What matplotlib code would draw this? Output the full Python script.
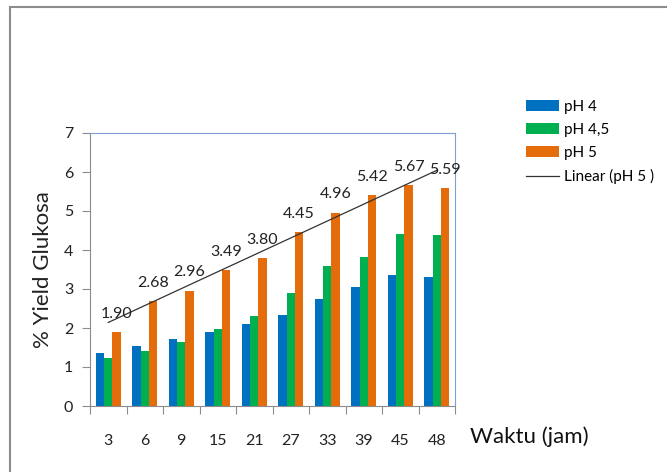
import matplotlib.pyplot as plt
import numpy as np
from matplotlib.patches import Rectangle

plt.rcParams['font.family'] = ['Lato', 'DejaVu Sans']

# data
waktu = ['3', '6', '9', '15', '21', '27', '33', '39', '45', '48']
ph4 = [1.36, 1.55, 1.71, 1.91, 2.10, 2.33, 2.74, 3.04, 3.35, 3.32]
ph45 = [1.22, 1.41, 1.64, 1.98, 2.31, 2.89, 3.60, 3.83, 4.40, 4.38]
ph5 = [1.90, 2.68, 2.96, 3.49, 3.80, 4.45, 4.96, 5.42, 5.67, 5.59]

c_blue = '#0070C0'
c_green = '#00B050'
c_orange = '#E46C0A'

fig = plt.figure(figsize=(6.67, 4.72), dpi=100)
# chart frame
fig.patches.append(Rectangle((10 / 667, -0.1), 1.2, 1 - 7 / 472 + 0.1,
                             transform=fig.transFigure, fill=False,
                             edgecolor='#8c8c8c', linewidth=1.5))

ax = fig.add_axes([90 / 667, 1 - 406 / 472, 365 / 667, 273 / 472])

n = len(waktu)
x = np.arange(n) + 0.5
w = 0.228
b1 = ax.bar(x - w, ph4, w, color=c_blue, label='pH 4')
b2 = ax.bar(x, ph45, w, color=c_green, label='pH 4,5')
b3 = ax.bar(x + w, ph5, w, color=c_orange, label='pH 5')

for xi, v in zip(x + w, ph5):
    ax.annotate(f'{v:.2f}', (xi, v), xytext=(0, 8), textcoords='offset points',
                ha='center', va='bottom', fontsize=11.5, color='#222222')

# linear trend of pH 5
k, c = np.polyfit(np.arange(1, n + 1), ph5, 1)
trend = k * np.arange(1, n + 1) + c
ax.plot(x, trend, color='#333333', linewidth=0.9, label='Linear (pH 5 )')

ax.set_xlim(0, n)
ax.set_ylim(0, 7)
ax.set_yticks(range(0, 8))
ax.set_xticks(np.arange(0, n + 1))
ax.set_xticklabels([])
ax.set_xticks(x, minor=True)
ax.set_xticklabels(waktu, minor=True)
ax.tick_params(axis='x', which='major', direction='out', length=6, color='#8c8c8c')
ax.tick_params(axis='x', which='minor', length=0, pad=20, labelsize=11.5, labelcolor='#222222')
ax.tick_params(axis='y', direction='out', length=6, color='#8c8c8c', labelsize=11.5,
               labelcolor='#222222', pad=6)

for s in ['left', 'bottom']:
    ax.spines[s].set_color('#8c8c8c')
for s in ['top', 'right']:
    ax.spines[s].set_color('#7fa0cf')

ax.set_ylabel('% Yield Glukosa', fontsize=16, color='#222222', labelpad=8)
fig.text(470 / 667, 1 - 437 / 472, 'Waktu (jam)', fontsize=16, color='#111111',
         ha='left', va='center')

handles = [b1, b2, b3, ax.lines[0]]
fig.legend(handles, [h.get_label() for h in handles], loc='upper left',
           bbox_to_anchor=(512 / 667, 1 - 86 / 472), frameon=False, fontsize=11,
           handlelength=2.2, handleheight=0.7, labelspacing=0.6, handletextpad=0.3)

fig.savefig('out.png', dpi=100)
